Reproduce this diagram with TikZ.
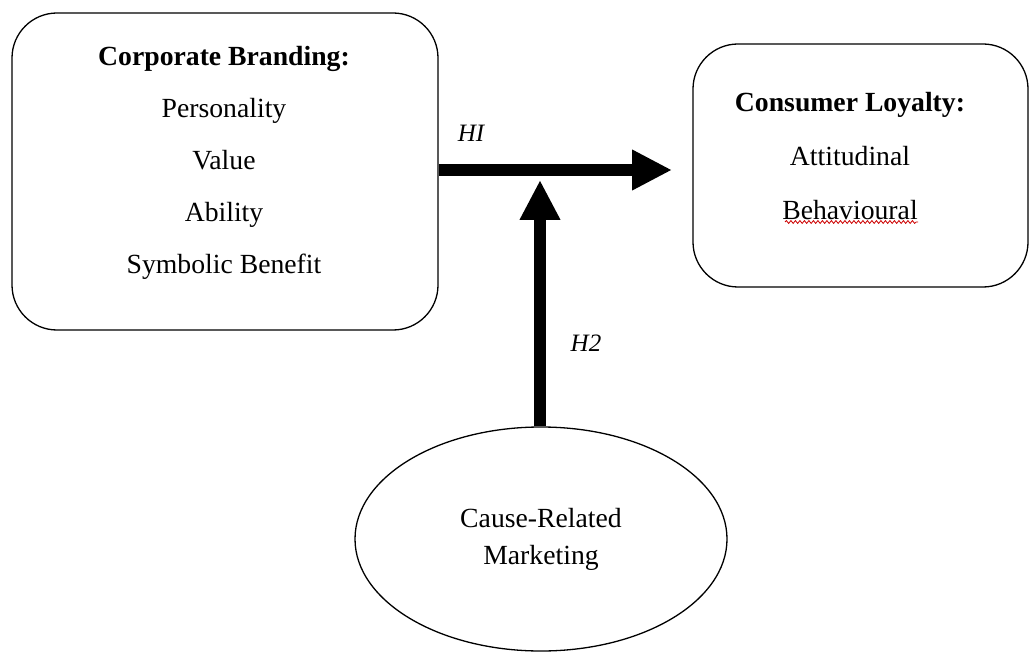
\documentclass[tikz,border=0pt]{standalone}
\usepackage{fontspec}
\setmainfont{Liberation Serif}
\usetikzlibrary{arrows.meta,shapes.geometric,decorations.pathmorphing}
\begin{document}
\begin{tikzpicture}[x=1pt,y=-1pt,
  box/.style={draw,line width=1.3pt,rounded corners=45pt,inner sep=0pt},
  txt/.style={font=\fontsize{27.7}{52}\selectfont,align=center,inner sep=0pt},
  bigarrow/.style={line width=12pt,-{Triangle[length=40pt,width=38pt]}},
  hlabel/.style={font=\fontsize{25}{28}\selectfont\itshape,inner sep=0pt}]
\useasboundingbox (0,0) rectangle (1030,652);
\node[box,minimum width=426pt,minimum height=317pt] (cb) at (225,171.5) {};
\node[txt] (cbt) at (224,162.5) {\textbf{Corporate Branding:}\\Personality\\Value\\Ability\\Symbolic Benefit};
\node[box,minimum width=335pt,minimum height=243pt] (cl) at (860.5,165.5) {};
\node[txt,font=\fontsize{27.7}{54}\selectfont] (clt) at (850,156) {\textbf{Consumer Loyalty:}\\Attitudinal\\Behavioural};
\draw[red!80!black,line width=0.8pt,decorate,decoration={snake,amplitude=1.4pt,segment length=4.5pt}] (785,222) -- (918,222);
\node[draw,ellipse,line width=1.3pt,minimum width=372pt,minimum height=224pt,inner sep=0pt,
  font=\fontsize{27.7}{37}\selectfont,align=center] (crm) at (541,539) {Cause-Related\\Marketing};
\coordinate (htip) at (672,170);
\coordinate (vtip) at (540,180);
\draw[bigarrow] (cb.east |- htip) -- (htip);
\draw[bigarrow] (crm.north -| vtip) -- (vtip);
\node[hlabel] (h1) at (471,133) {HI};
\node[hlabel] (h2) at (586,343) {H2};
\end{tikzpicture}
\end{document}
